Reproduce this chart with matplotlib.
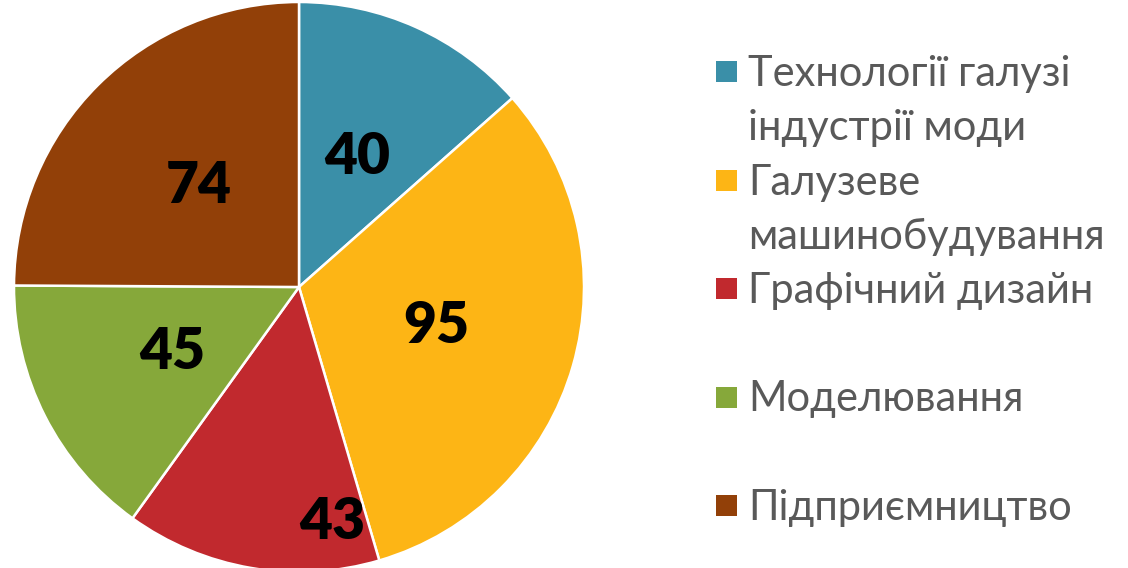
import matplotlib.pyplot as plt
from matplotlib.patches import Rectangle

categories = ['Технології галузі\nіндустрії моди', 'Галузеве\nмашинобудування',
              'Графічний дизайн', 'Моделювання', 'Підприємництво']
values = [40, 95, 43, 45, 74]
colors = ['#3A8FA8', '#FDB515', '#C1292E', '#86A83A', '#924008']

W, H = 1128, 568
fig = plt.figure(figsize=(W / 100, H / 100), dpi=100)
ax = fig.add_axes([14 / W, -4 / H, 570 / W, 570 / H])

wedges, texts, autotexts = ax.pie(
    values, colors=colors, startangle=90, counterclock=False,
    autopct=lambda p: '%d' % round(p * sum(values) / 100), pctdistance=0.5,
    wedgeprops={'edgecolor': 'white', 'linewidth': 1.8},
    textprops={'fontsize': 41, 'fontweight': 'heavy', 'color': 'black', 'family': 'Lato'})
ax.set_xlim(-1, 1)
ax.set_ylim(-1, 1)
ax.set_aspect('equal')

# Excel pushed the small red label out toward the rim
autotexts[2].set_position((0.116, -0.825))

# legend drawn by hand: squares aligned to the first text line
for i, (lab, col) in enumerate(zip(categories, colors)):
    base = 86 + i * 108.5
    fig.patches.append(Rectangle((716 / W, 1 - (base - 4) / H), 21 / W, 21 / H,
                                 transform=fig.transFigure, facecolor=col,
                                 edgecolor='none'))
    for k, line in enumerate(lab.split('\n')):
        fig.text(748 / W, 1 - (base + k * 54) / H, line, fontsize=30,
                 color='#595959', family='Lato', va='baseline', ha='left')

fig.savefig('out.png', dpi=100)
